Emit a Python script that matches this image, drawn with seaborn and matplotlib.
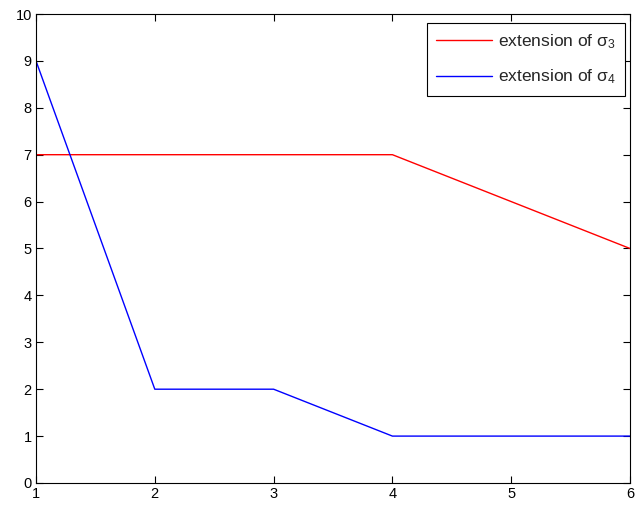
import numpy as np
import pandas as pd
import matplotlib
matplotlib.use("Agg")
import matplotlib.pyplot as plt
import seaborn as sns

# === Data ===
x_vals = [1, 2, 3, 4, 5, 6]
sigma3 = [7, 7, 7, 7, 6, 5]
sigma4 = [9, 2, 2, 1, 1, 1]
labels = [r'extension of $\sigma_3$', r'extension of $\sigma_4$']

df = pd.DataFrame({
    'x': x_vals * 2,
    'y': sigma3 + sigma4,
    'series': [labels[0]] * len(x_vals) + [labels[1]] * len(x_vals),
})

# === Style ===
sns.set_style('ticks')
plt.rcParams['font.family'] = ['Liberation Sans', 'DejaVu Sans']
plt.rcParams['mathtext.fontset'] = 'custom'
plt.rcParams['mathtext.rm'] = 'Liberation Sans'
plt.rcParams['mathtext.it'] = 'Liberation Sans'

fig = plt.figure(figsize=(6.36, 5.11), dpi=100)
ax = fig.add_axes([0.0566, 0.0548, 0.934, 0.9178])

sns.lineplot(data=df, x='x', y='y', hue='series',
             palette=['#ff0000', '#0000ff'], linewidth=1.0, ax=ax)

ax.set_xlim(1, 6)
ax.set_ylim(0, 10)
ax.set_xticks(range(1, 7))
ax.set_yticks(range(0, 11))
ax.set_xlabel('')
ax.set_ylabel('')
for s in ax.spines.values():
    s.set_visible(True)
    s.set_linewidth(0.8)
    s.set_color('black')
ax.tick_params(direction='in', top=True, right=True, length=5, width=0.8,
               labelsize=10.5, colors='black', pad=3)

leg = ax.legend(loc='upper right', bbox_to_anchor=(0.9916, 0.9808),
                fontsize=12.5, frameon=True, fancybox=False,
                edgecolor='black', framealpha=1, handlelength=3.2,
                handletextpad=0.35, borderpad=0.55, borderaxespad=0,
                labelspacing=0.95)
leg.get_frame().set_linewidth(0.8)

fig.savefig('out.png', dpi=100)
